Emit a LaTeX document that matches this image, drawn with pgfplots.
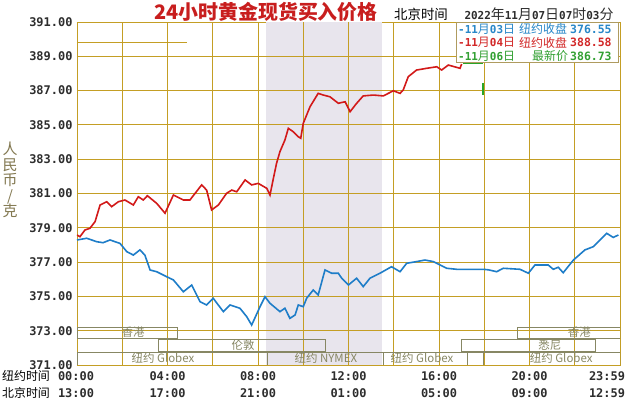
\documentclass[border=0pt]{standalone}
\usepackage{fontspec}
\usepackage{pgfplots}
\pgfplotsset{compat=1.18}
\newfontfamily\cjk{Noto Sans CJK SC}
\newfontfamily\mono{DejaVu Sans Mono}
\definecolor{gridc}{RGB}{196,158,36}
\definecolor{shadec}{RGB}{232,229,237}
\definecolor{bluec}{RGB}{30,125,200}
\definecolor{redc}{RGB}{210,25,25}
\definecolor{greenc}{RGB}{40,165,40}
\definecolor{tickc}{RGB}{45,45,45}
\definecolor{sessc}{RGB}{135,135,100}
\definecolor{ylabc}{RGB}{130,120,80}
\definecolor{legb}{RGB}{175,155,95}
\definecolor{titlec}{RGB}{200,30,30}
\definecolor{lblue}{RGB}{40,135,200}
\definecolor{lred}{RGB}{210,40,40}
\definecolor{lgreen}{RGB}{50,160,50}
\newcommand\D[1]{{\mono\bfseries #1}}
\pgfplotstableread{
h v
0 378.29
0.43 378.39
0.87 378.19
1.15 378.13
1.46 378.29
1.9 378.09
2.2 377.61
2.49 377.41
2.78 377.71
3.0 377.41
3.23 376.54
3.52 376.44
3.96 376.15
4.26 375.96
4.7 375.27
5.07 375.66
5.44 374.69
5.73 374.5
6.02 374.89
6.47 374.11
6.76 374.5
7.2 374.31
7.5 373.82
7.72 373.33
8.09 374.4
8.31 374.98
8.53 374.6
8.97 374.11
9.19 374.31
9.41 373.72
9.64 373.92
9.78 374.5
10.0 374.4
10.15 374.89
10.44 375.37
10.66 375.08
10.96 376.54
11.26 376.35
11.55 376.35
11.7 376.06
12.0 375.67
12.36 376.06
12.65 375.57
12.95 376.06
13.39 376.35
13.9 376.73
14.28 376.44
14.57 376.93
15.01 377.03
15.38 377.12
15.75 377.03
16.34 376.64
16.78 376.58
17.96 376.58
18.18 376.55
18.55 376.44
18.84 376.64
19.58 376.58
19.95 376.35
20.24 376.83
20.83 376.83
21.05 376.58
21.27 376.7
21.49 376.38
21.94 377.12
22.45 377.71
22.82 377.9
23.41 378.68
23.7 378.44
23.93 378.58
}\bluedata
\pgfplotstableread{
h v
0 378.58
0.13 378.48
0.35 378.87
0.57 378.97
0.8 379.36
1.02 380.33
1.31 380.52
1.53 380.23
1.83 380.52
2.12 380.62
2.49 380.33
2.71 380.81
2.93 380.62
3.11 380.87
3.52 380.43
3.89 379.85
4.26 380.91
4.7 380.62
4.99 380.62
5.22 381.01
5.51 381.5
5.73 381.2
5.95 380.04
6.25 380.33
6.61 381.01
6.84 381.2
7.06 381.1
7.43 381.79
7.72 381.5
8.01 381.59
8.39 381.3
8.53 380.91
8.68 381.88
8.82 382.76
8.97 383.44
9.19 384.12
9.34 384.8
9.56 384.6
9.78 384.31
9.89 384.22
10.0 385.09
10.3 386.06
10.66 386.84
10.89 386.74
11.18 386.64
11.55 386.26
11.85 386.35
12.07 385.77
12.36 386.26
12.65 386.69
13.1 386.74
13.54 386.69
13.98 386.99
14.28 386.84
14.42 387.04
14.64 387.81
15.01 388.2
15.46 388.3
15.9 388.39
16.12 388.2
16.41 388.49
16.93 388.3
17.0 388.55
}\reddata
\begin{document}
\begin{tikzpicture}
\useasboundingbox[fill=white] (0,0) rectangle (630bp,400bp);
\begin{axis}[
  at={(77bp,35bp)}, anchor=south west,
  width=543bp, height=343bp, scale only axis,
  xmin=0, xmax=24, ymin=371, ymax=391,
  xtick={0,2,...,24}, xticklabels={},
  ytick={371,373,...,391},
  grid=major, major grid style={draw=gridc, line width=0.8bp},
  axis line style={draw=gridc, line width=0.9bp},
  tick style={draw=none},
  yticklabel style={font=\mono\bfseries\fontsize{12}{12}\selectfont, text=tickc, xshift=-1bp},
  yticklabel={\pgfmathprintnumber[fixed,fixed zerofill,precision=2,1000 sep={},assume math mode=true]{\tick}},
  ylabel={人\\民\\币\\/\\克},
  every axis y label/.style={at={(rel axis cs:0,0.539)}, xshift=-67bp, anchor=center,
    align=center, font=\cjk\fontsize{15}{15.5}\selectfont, text=ylabc},
]
\addplot[draw=none, fill=shadec] coordinates {(8.36,391) (13.48,391)} \closedcycle;
% grid segments over the shaded band
\addplot[gridc, line width=0.8bp] coordinates {(10,371) (10,391)};
\addplot[gridc, line width=0.8bp] coordinates {(12,371) (12,391)};
\pgfplotsinvokeforeach{373,375,...,389}{
  \addplot[gridc, line width=0.8bp] coordinates {(8.36,#1) (13.48,#1)};
}
\addplot[gridc, line width=0.8bp] coordinates {(0,389.83) (4.87,389.83)};
% session boxes
\draw[sessc, line width=0.6bp] (axis cs:0,372.57) rectangle (axis cs:4.42,373.22);
\draw[sessc, line width=0.6bp] (axis cs:3.58,371.82) rectangle (axis cs:10.96,372.51);
\draw[sessc, line width=0.6bp] (axis cs:0,371) rectangle (axis cs:8.4,371.76);
\draw[sessc, line width=0.6bp] (axis cs:8.4,371) rectangle (axis cs:13.52,371.76);
\draw[sessc, line width=0.6bp] (axis cs:13.52,371) rectangle (axis cs:17.24,371.76);
\draw[sessc, line width=0.6bp] (axis cs:17.24,371) rectangle (axis cs:17.95,371.76);
\draw[sessc, line width=0.6bp] (axis cs:17.95,371) rectangle (axis cs:24,371.76);
\draw[sessc, line width=0.6bp] (axis cs:17.0,371.82) rectangle (axis cs:22.9,372.51);
\draw[sessc, line width=0.6bp] (axis cs:19.45,372.57) rectangle (axis cs:24,373.22);
\node[font=\cjk\fontsize{11.5}{12}\selectfont, text=sessc, inner sep=0pt] at (axis cs:2.48,372.92) {香港};
\node[font=\cjk\fontsize{11.5}{12}\selectfont, text=sessc, inner sep=0pt] at (axis cs:7.34,372.16) {伦敦};
\node[font=\cjk\fontsize{11.5}{12}\selectfont, text=sessc, inner sep=0pt] at (axis cs:3.8,371.4) {纽约 Globex};
\node[font=\cjk\fontsize{11.5}{12}\selectfont, text=sessc, inner sep=0pt] at (axis cs:11.0,371.4) {纽约 NYMEX};
\node[font=\cjk\fontsize{11.5}{12}\selectfont, text=sessc, inner sep=0pt] at (axis cs:15.25,371.4) {纽约 Globex};
\node[font=\cjk\fontsize{11.5}{12}\selectfont, text=sessc, inner sep=0pt] at (axis cs:21.4,371.4) {纽约 Globex};
\node[font=\cjk\fontsize{11.5}{12}\selectfont, text=sessc, inner sep=0pt] at (axis cs:20.9,372.16) {悉尼};
\node[font=\cjk\fontsize{11.5}{12}\selectfont, text=sessc, inner sep=0pt] at (axis cs:22.2,372.92) {香港};
\addplot[bluec, line width=1.6bp] table {\bluedata};
\addplot[redc, line width=1.6bp] table {\reddata};
\addplot[greenc, line width=1.6bp] coordinates {(17.06,388.6) (17.95,388.6)};
\addplot[greenc, line width=1.6bp] coordinates {(17.95,387.45) (17.95,386.73)};
\end{axis}
% title
\node[font=\cjk\bfseries\fontsize{20}{20}\selectfont, text=titlec] at (266bp,388bp) {24小时黄金现货买入价格};
\node[font=\cjk\fontsize{13.5}{14}\selectfont] at (421bp,386bp) {北京时间};
\node[font=\cjk\fontsize{14}{14}\selectfont, text=tickc] at (539bp,386bp) {\D{\fontsize{11}{11}\selectfont 2022}年\D{\fontsize{11}{11}\selectfont 11}月\D{\fontsize{11}{11}\selectfont 07}日\D{\fontsize{11}{11}\selectfont 07}时\D{\fontsize{11}{11}\selectfont 03}分};
% legend box
\draw[legb, line width=0.7bp, fill=white] (456bp,338bp) rectangle (618bp,378bp);
\node[font=\cjk\fontsize{12}{12}\selectfont, inner sep=0pt, anchor=west, text=lblue] at (458bp,371bp) {\D{\fontsize{11}{11}\selectfont -11}月\D{\fontsize{11}{11}\selectfont 03}日};
\node[font=\cjk\fontsize{12}{12}\selectfont, inner sep=0pt, anchor=west, text=lblue] at (519bp,371bp) {纽约收盘};
\node[font=\cjk\fontsize{12}{12}\selectfont, inner sep=0pt, anchor=west, text=lblue] at (570bp,371bp) {\D{\fontsize{11.5}{11.5}\selectfont 376.55}};
\node[font=\cjk\fontsize{12}{12}\selectfont, inner sep=0pt, anchor=west, text=lred] at (458bp,357.5bp) {\D{\fontsize{11}{11}\selectfont -11}月\D{\fontsize{11}{11}\selectfont 04}日};
\node[font=\cjk\fontsize{12}{12}\selectfont, inner sep=0pt, anchor=west, text=lred] at (519bp,357.5bp) {纽约收盘};
\node[font=\cjk\fontsize{12}{12}\selectfont, inner sep=0pt, anchor=west, text=lred] at (570bp,357.5bp) {\D{\fontsize{11.5}{11.5}\selectfont 388.58}};
\node[font=\cjk\fontsize{12}{12}\selectfont, inner sep=0pt, anchor=west, text=lgreen] at (458bp,344bp) {\D{\fontsize{11}{11}\selectfont -11}月\D{\fontsize{11}{11}\selectfont 06}日};
\node[font=\cjk\fontsize{12}{12}\selectfont, inner sep=0pt, anchor=west, text=lgreen] at (532bp,344bp) {最新价};
\node[font=\cjk\fontsize{12}{12}\selectfont, inner sep=0pt, anchor=west, text=lgreen] at (570bp,344bp) {\D{\fontsize{11.5}{11.5}\selectfont 386.73}};
% x labels
\begin{scope}[every node/.style={font=\mono\bfseries\fontsize{12}{12}\selectfont, text=tickc, inner sep=0pt}]
\node at (76bp,24bp) {00:00};   \node at (76bp,7bp) {13:00};
\node at (167.5bp,24bp) {04:00}; \node at (167.5bp,7bp) {17:00};
\node at (258bp,24bp) {08:00};  \node at (258bp,7bp) {21:00};
\node at (348.5bp,24bp) {12:00}; \node at (348.5bp,7bp) {01:00};
\node at (439bp,24bp) {16:00};  \node at (439bp,7bp) {05:00};
\node at (529.5bp,24bp) {20:00}; \node at (529.5bp,7bp) {09:00};
\node at (607bp,24bp) {23:59};  \node at (607bp,7bp) {12:59};
\end{scope}
\node[font=\cjk\fontsize{12}{13}\selectfont, inner sep=0pt] at (26bp,24bp) {纽约时间};
\node[font=\cjk\fontsize{12}{13}\selectfont, inner sep=0pt] at (26bp,7bp) {北京时间};
\end{tikzpicture}
\end{document}
